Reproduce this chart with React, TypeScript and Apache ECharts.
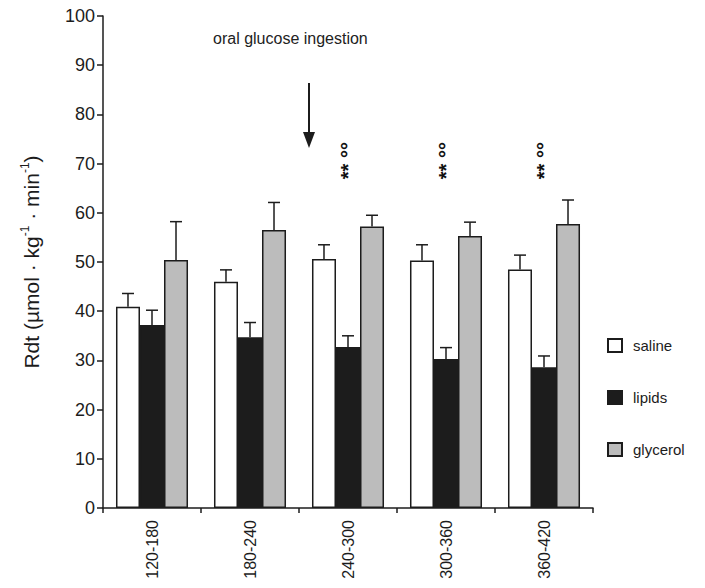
import React, { useEffect, useRef } from "react";
import * as echarts from "echarts";

const categories = ["120-180", "180-240", "240-300", "300-360", "360-420"];
const saline = [40.9, 46.0, 50.6, 50.3, 48.5];
const salineErr = [43.6, 48.4, 53.5, 53.5, 51.4];
const lipids = [37.2, 34.7, 32.7, 30.3, 28.6];
const lipidsErr = [40.2, 37.7, 35.0, 32.6, 30.9];
const glycerol = [50.4, 56.5, 57.2, 55.3, 57.7];
const glycerolErr = [58.2, 62.1, 59.5, 58.1, 62.6];
const annotations = [
  { cat: 2, y: 70.6, text: "** °°" },
  { cat: 3, y: 70.6, text: "** °°" },
  { cat: 4, y: 70.6, text: "** °°" },
];
const yTicks = { min: 0, max: 100, interval: 10 };

const FONT = "'Liberation Sans', Arial, sans-serif";
const INK = "#1c1c1c";

function errSeries(name: string, vals: number[], tops: number[], shift: number) {
  return {
    type: "custom",
    name: name + "-err",
    silent: true,
    z: 1,
    data: vals.map((v, i) => [i, v, tops[i]]),
    renderItem: (params: any, api: any) => {
      const i = api.value(0);
      const band = api.size([1, 0])[0];
      const bw = band * 0.245;
      const base = api.coord([i, api.value(1)]);
      const top = api.coord([i, api.value(2)]);
      const x = base[0] + shift * bw;
      const cap = 6;
      return {
        type: "group",
        children: [
          {
            type: "line",
            shape: { x1: x, y1: base[1], x2: x, y2: top[1] },
            style: { stroke: INK, lineWidth: 1.5 },
          },
          {
            type: "line",
            shape: { x1: x - cap, y1: top[1], x2: x + cap, y2: top[1] },
            style: { stroke: INK, lineWidth: 1.5 },
          },
        ],
      };
    },
  };
}

export default function App() {
  const ref = useRef<HTMLDivElement>(null);
  useEffect(() => {
    if (!ref.current) return;
    const chart = echarts.init(ref.current, undefined, { renderer: "svg" });
    const barStyle = (color: string) => ({
      color,
      borderColor: INK,
      borderWidth: 1.5,
    });
    const annotLabel = {
      show: true,
      position: "inside",
      rotate: 90,
      fontSize: 20,
      fontWeight: "bold",
      color: "#111",
      opacity: 1,
      textBorderWidth: 0,
      textBorderColor: "transparent",
      fontFamily: FONT,
    };
    chart.setOption({
      animation: false,
      backgroundColor: "#fff",
      textStyle: { fontFamily: FONT },
      grid: { left: 103, right: 112, top: 16, bottom: 80 },
      legend: {
        orient: "vertical",
        left: 602,
        top: 333,
        itemGap: 37,
        itemWidth: 14,
        itemHeight: 13,
        icon: "rect",
        textStyle: { fontFamily: FONT, fontSize: 15, color: INK, padding: [0, 0, 0, 6] },
        data: ["saline", "lipids", "glycerol"],
      },
      xAxis: {
        type: "category",
        data: categories,
        axisLine: { lineStyle: { color: INK, width: 1.5 } },
        axisTick: { show: true, length: 5, lineStyle: { color: INK, width: 1.5 } },
        axisLabel: {
          rotate: 90,
          fontSize: 16,
          color: INK,
          margin: 12,
          fontFamily: FONT,
        },
      },
      yAxis: {
        type: "value",
        min: yTicks.min,
        max: yTicks.max,
        interval: yTicks.interval,
        splitLine: { show: false },
        axisLine: { show: true, lineStyle: { color: INK, width: 1.5 } },
        axisTick: { show: true, length: 6, lineStyle: { color: INK, width: 1.5 } },
        axisLabel: { fontSize: 18, color: INK, margin: 8, fontFamily: FONT },
        name: "{a|Rdt (µmol · kg}{s|-1}{a| · min}{s|-1}{a|)}",
        nameLocation: "middle",
        nameGap: 60,
        nameRotate: 90,
        nameTextStyle: {
          rich: {
            a: { fontSize: 21, color: INK, fontFamily: FONT, lineHeight: 24 },
            s: { fontSize: 12, color: INK, fontFamily: FONT, lineHeight: 24, verticalAlign: "top" },
          },
        },
      },
      series: [
        {
          type: "bar",
          name: "saline",
          data: saline,
          barWidth: "24.5%",
          barGap: "0%",
          itemStyle: barStyle("#ffffff"),
          z: 2,
        },
        {
          type: "bar",
          name: "lipids",
          data: lipids,
          barWidth: "24.5%",
          barGap: "0%",
          itemStyle: barStyle("#1c1c1c"),
          z: 2,
        },
        {
          type: "bar",
          name: "glycerol",
          data: glycerol,
          barWidth: "24.5%",
          barGap: "0%",
          itemStyle: barStyle("#bcbcbc"),
          z: 2,
        },
        errSeries("saline", saline, salineErr, -1),
        errSeries("lipids", lipids, lipidsErr, 0),
        errSeries("glycerol", glycerol, glycerolErr, 1),
        {
          type: "scatter",
          name: "annot",
          silent: true,
          symbolSize: 1,
          itemStyle: { color: "rgba(0,0,0,0)", opacity: 1 },
          data: annotations.map((a) => ({
            value: [a.cat, a.y],
            label: { ...annotLabel, formatter: a.text },
          })),
          label: annotLabel,
        },
      ],
      graphic: [
        {
          type: "text",
          left: 213,
          top: 30,
          style: { text: "oral glucose ingestion", fontSize: 16, fill: "#222", fontFamily: FONT },
        },
        {
          type: "line",
          shape: { x1: 309, y1: 83, x2: 309, y2: 136 },
          style: { stroke: INK, lineWidth: 2 },
        },
        {
          type: "polygon",
          shape: { points: [[303, 132], [315, 132], [309, 148]] },
          style: { fill: INK },
        },
      ],
    });
    return () => chart.dispose();
  }, []);
  return <div ref={ref} style={{ width: 705, height: 588, position: "absolute", left: 0, top: 0 }} />;
}
